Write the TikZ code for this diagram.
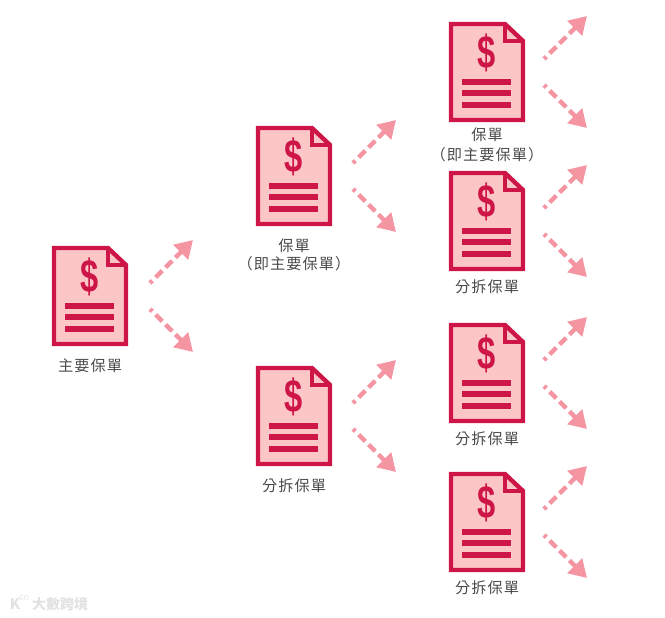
\documentclass[tikz,border=0pt]{standalone}
\usepackage{fontspec}
\setmainfont{Noto Sans CJK TC}
\newfontfamily\labelfont{Noto Sans CJK TC}[LetterSpace=7]
\newfontfamily\dollarfont{Liberation Sans}[BoldFont={Liberation Sans Bold}]
\usetikzlibrary{arrows.meta,calc}
\definecolor{docred}{HTML}{CD1647}
\definecolor{docfill}{HTML}{FDC6C6}
\definecolor{arrowpink}{HTML}{F495A1}
\definecolor{labelgray}{HTML}{4A4A4A}
\definecolor{markgray}{HTML}{E2E2E2}
\tikzset{
  x=0.75pt,y=-0.75pt,
  docline/.style={draw=docred,line width=3.3pt,miter limit=10},
  docrule/.style={draw=docred,line width=4.3pt},
  branch/.style={draw=arrowpink,line width=3.3pt,dash pattern=on 2.5pt off 3.5pt on 7pt off 3.5pt on 7pt off 3.5pt on 7pt off 3.5pt on 7pt off 3.5pt,
    -{Triangle[length=13pt,width=15pt,fill=arrowpink]}},
  lab/.style={text=labelgray,font=\fontsize{11.4pt}{14pt}\labelfont,align=center,inner sep=0pt,anchor=center},
  dollar/.style={text=docred,font=\fontsize{35pt}{35pt}\dollarfont\bfseries,inner sep=0pt,xscale=0.7},
  pics/docicon/.style={code={
    \path[docline,fill=docfill] (2,2) -- (56,2) -- (74,19) -- (74,98) -- (2,98) -- cycle;
    \path[docline] (56,2) -- (56,19) -- (74,19);
    \node[dollar] at (38,31) {\$};
    \foreach \ry in {60,71,83} \draw[docrule] (13,\ry) -- (62,\ry);
    \coordinate (-us) at (#1,37);
    \coordinate (-ue) at ($(#1,37)+(43,-43)$);
    \coordinate (-ds) at (#1,63);
    \coordinate (-de) at ($(#1,63)+(43,43)$);
    \draw[branch] (-us) -- (-ue);
    \draw[branch] (-ds) -- (-de);
  }}
}
\begin{document}
\begin{tikzpicture}
\useasboundingbox (0,0) rectangle (665,618);
\pic (d1) at (52,246) {docicon=98};
\pic (d2) at (256,126) {docicon=97};
\pic (d3) at (256,366) {docicon=97};
\pic (d4) at (449,22) {docicon=95};
\pic (d5) at (449,171) {docicon=95};
\pic (d6) at (449,323) {docicon=95};
\pic (d7) at (449,472) {docicon=95};
\node[lab] (l1) at (90,366) {主要保單};
\node[lab] (l2a) at (294,246) {保單};
\node[lab] (l2b) at (294,264) {（即主要保單）};
\node[lab] (l3) at (294,486) {分拆保單};
\node[lab] (l4a) at (487,135) {保單};
\node[lab] (l4b) at (487,155) {（即主要保單）};
\node[lab] (l5) at (487,287) {分拆保單};
\node[lab] (l6) at (487,439) {分拆保單};
\node[lab] (l7) at (487,588) {分拆保單};
\node[text=markgray,font=\bfseries\fontsize{10.5pt}{12pt}\selectfont,inner sep=0pt] (wm) at (60,604) {大數跨境};
\node[text=markgray,font=\bfseries\fontsize{11pt}{12pt}\selectfont,inner sep=0pt] (wk) at (15,604) {K};
\node[text=markgray,font=\fontsize{5pt}{6pt}\selectfont,inner sep=0pt] (wg) at (24,598) {GO};
\end{tikzpicture}
\end{document}
